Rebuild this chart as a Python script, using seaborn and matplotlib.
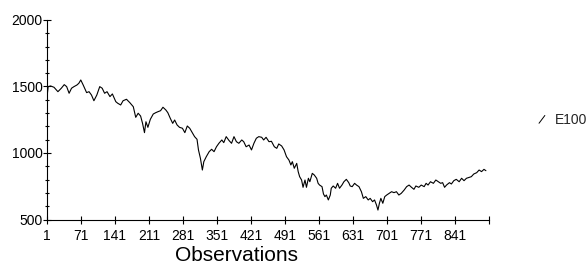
import numpy as np
import pandas as pd
import matplotlib
matplotlib.use('Agg')
import matplotlib.pyplot as plt
import seaborn as sns
from matplotlib.lines import Line2D
from matplotlib.legend_handler import HandlerBase
from matplotlib.ticker import MultipleLocator

# observation number and series value
obs = [1, 4, 9, 16, 24, 31, 37, 42, 47, 52, 57, 63, 67, 71, 76, 83, 88, 93, 98, 104,
       110, 115, 120, 125, 131, 136, 143, 147, 153, 158, 165, 172, 179, 184, 189, 194, 198, 202, 205, 209,
       214, 220, 225, 230, 235, 240, 246, 250, 255, 260, 264, 269, 274, 280, 285, 290, 295, 301, 305, 310,
       313, 317, 321, 324, 329, 335, 340, 345, 350, 355, 361, 365, 370, 376, 381, 386, 391, 396, 402, 406,
       411, 417, 422, 427, 432, 437, 443, 447, 452, 458, 463, 469, 474, 478, 484, 489, 494, 499, 503, 506,
       510, 515, 518, 521, 525, 528, 532, 535, 539, 542, 547, 551, 556, 559, 562, 567, 570, 573, 576, 580,
       584, 586, 590, 595, 599, 603, 608, 612, 617, 622, 625, 629, 634, 638, 643, 648, 652, 657, 662, 666,
       671, 675, 679, 682, 685, 688, 692, 696, 700, 705, 710, 715, 720, 725, 730, 736, 741, 746, 751, 756,
       760, 766, 771, 777, 781, 785, 790, 796, 801, 806, 811, 815, 819, 823, 829, 833, 838, 843, 849, 854,
       859, 864, 870, 874, 879, 885, 890, 895, 900, 904]
e100 = [1404, 1499, 1504, 1494, 1461, 1487, 1514, 1499, 1449, 1487, 1499, 1511, 1524, 1549, 1511, 1454, 1461, 1436, 1393, 1436,
        1499, 1487, 1449, 1461, 1424, 1444, 1386, 1374, 1361, 1393, 1404, 1378, 1348, 1268, 1299, 1278, 1223, 1153, 1235, 1193,
        1253, 1293, 1303, 1311, 1318, 1344, 1323, 1303, 1261, 1223, 1248, 1211, 1193, 1186, 1153, 1203, 1186, 1148, 1123, 1103,
        1023, 960, 872, 935, 972, 1010, 1028, 1010, 1047, 1073, 1098, 1078, 1123, 1093, 1073, 1123, 1085, 1073, 1098, 1085,
        1047, 1060, 1023, 1073, 1111, 1123, 1118, 1098, 1118, 1085, 1088, 1047, 1035, 1068, 1053, 1023, 972, 947, 910, 935,
        885, 922, 860, 822, 797, 742, 797, 742, 810, 784, 847, 835, 810, 772, 759, 747, 692, 672, 684, 647,
        684, 735, 752, 735, 772, 735, 759, 784, 802, 777, 752, 747, 772, 759, 747, 709, 659, 672, 647, 659,
        634, 647, 609, 571, 622, 659, 622, 672, 684, 697, 709, 702, 709, 684, 697, 722, 747, 759, 742, 727,
        752, 742, 759, 747, 772, 759, 784, 772, 797, 784, 772, 777, 742, 759, 777, 767, 792, 802, 784, 810,
        792, 810, 817, 822, 842, 852, 872, 860, 877, 867]
x_ticks = [1, 71, 141, 211, 281, 351, 421, 491, 561, 631, 701, 771, 841, 911]
x_labels = ['1', '71', '141', '211', '281', '351', '421', '491', '561', '631', '701', '771', '841', '']
y_ticks = [500, 1000, 1500, 2000]

df = pd.DataFrame({'Observation': obs, 'E100': e100})

sns.set_style('ticks')
plt.rcParams['font.family'] = ['Liberation Sans', 'DejaVu Sans']


class SlashHandler(HandlerBase):
    def create_artists(self, legend, orig_handle, xdescent, ydescent, width, height, fontsize, trans):
        line = Line2D([width * 0.35, width * 0.7], [height * 0.1, height * 0.9],
                      color='black', lw=0.7, transform=trans)
        return [line]


fig = plt.figure(figsize=(5.87, 2.72), dpi=100)
ax = fig.add_axes([0.0796, 0.193, 0.7540, 0.7335])
sns.lineplot(data=df, x='Observation', y='E100', color='black', lw=0.8, ax=ax, label='E100')

ax.set_xlim(1, 911)
ax.set_ylim(500, 2000)
ax.set_xticks(x_ticks)
ax.set_xticklabels(x_labels)
ax.set_yticks(y_ticks)
ax.yaxis.set_minor_locator(MultipleLocator(100))
ax.tick_params(axis='both', which='major', direction='inout', length=6, width=0.8,
               labelsize=10, color='black', labelcolor='black')
ax.tick_params(axis='y', which='major', pad=0)
ax.tick_params(axis='x', which='major', pad=3.5)
ax.tick_params(axis='y', which='minor', direction='inout', length=3, width=0.8, color='black')
sns.despine(ax=ax)
for s in ['left', 'bottom']:
    ax.spines[s].set_color('black')
    ax.spines[s].set_linewidth(0.8)

ax.set_ylabel('')
ax.set_xlabel('Observations', fontsize=15, color='black')
ax.xaxis.set_label_coords(0.428, -0.135)

handles, labels = ax.get_legend_handles_labels()
ax.legend(handles, labels, handler_map={type(handles[0]): SlashHandler()},
          loc='center left', bbox_to_anchor=(0.8965, 0.558), bbox_transform=fig.transFigure,
          frameon=False, fontsize=10, handlelength=1.2, handletextpad=0.35, borderpad=0)

fig.savefig('out.png', dpi=100, facecolor='white')
